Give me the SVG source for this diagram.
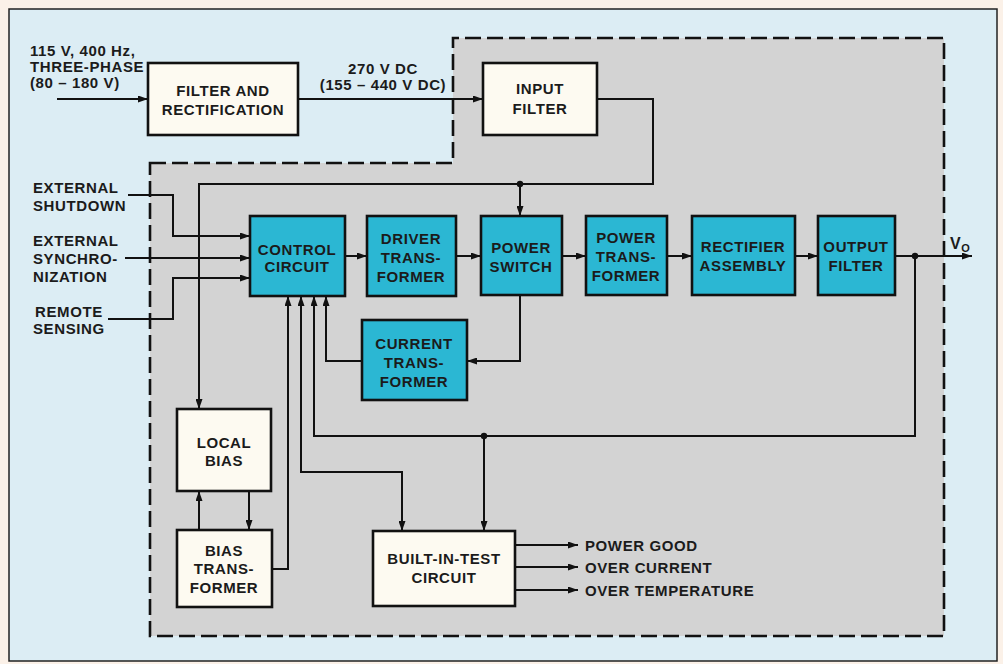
<svg xmlns="http://www.w3.org/2000/svg" width="1003" height="664" viewBox="0 0 1003 664">
<style>
.t{font-family:"Liberation Sans",Arial,sans-serif;font-weight:bold;font-size:15px;fill:#1b1b1b;letter-spacing:0.6px}
.c{text-anchor:middle}
.cream{fill:#fdfaf1;stroke:#111;stroke-width:2.6}
.cyan{fill:#2bb7d3;stroke:#111;stroke-width:2.6}
.ln{fill:none;stroke:#111;stroke-width:2}
.arr{marker-end:url(#ah)}
</style>
<defs>
<marker id="ah" markerWidth="10" markerHeight="7" refX="10" refY="3.5" orient="auto-start-reverse" markerUnits="userSpaceOnUse">
<path d="M0,0 L10,3.5 L0,7 z" fill="#111"/>
</marker>
</defs>
<rect x="0" y="0" width="1003" height="664" fill="#fbf1e8"/>
<rect x="9" y="9" width="988" height="652" fill="#dcedf4" stroke="#222" stroke-width="1.5"/>
<path d="M150,163 H453 V38 H944 V636 H150 Z" fill="#d3d3d3" stroke="#111" stroke-width="2.6" stroke-dasharray="16 6"/>

<g id="labels-in">
<text class="t" x="30" y="56">115 V, 400 Hz,</text>
<text class="t" x="30" y="72">THREE-PHASE</text>
<text class="t" x="30" y="88">(80 – 180 V)</text>
<text class="t c" x="383" y="74">270 V DC</text>
<text class="t c" x="383" y="90">(155 – 440 V DC)</text>
<text class="t" x="33" y="193">EXTERNAL</text>
<text class="t" x="33" y="211">SHUTDOWN</text>
<text class="t" x="33" y="246">EXTERNAL</text>
<text class="t" x="33" y="264">SYNCHRO-</text>
<text class="t" x="33" y="282">NIZATION</text>
<text class="t" x="35" y="317">REMOTE</text>
<text class="t" x="33" y="334">SENSING</text>
<text class="t" x="585" y="551">POWER GOOD</text>
<text class="t" x="585" y="573">OVER CURRENT</text>
<text class="t" x="585" y="596">OVER TEMPERATURE</text>
<text class="t" x="950" y="249" style="font-size:16px">V<tspan dy="3" style="font-size:11px">O</tspan></text>
</g>

<g id="connectors">
<path class="ln arr" d="M57,99 H148"/>
<path class="ln arr" d="M298,99 H483"/>
<path class="ln arr" d="M597,99 H653 V184 H199 V409"/>
<path class="ln arr" d="M520,184 V216"/>
<path class="ln arr" d="M128,195 H173 V236 H250"/>
<path class="ln arr" d="M125,258 H250"/>
<path class="ln arr" d="M108,319 H173 V278 H250"/>
<path class="ln arr" d="M345,256 H367"/>
<path class="ln arr" d="M456,256 H481"/>
<path class="ln arr" d="M562,256 H586"/>
<path class="ln arr" d="M667,256 H692"/>
<path class="ln arr" d="M795,256 H818"/>
<path class="ln arr" d="M895,256 H972"/>
<path class="ln arr" d="M915,256 V436 H314 V296"/>
<path class="ln arr" d="M484,436 V531"/>
<path class="ln arr" d="M520,295 V361 H467"/>
<path class="ln arr" d="M362,361 H326 V296"/>
<path class="ln arr" d="M272,569 H288 V296"/>
<path class="ln arr" d="M301,296 V472 H402 V531" marker-start="url(#ah)"/>
<path class="ln arr" d="M249,491 V530"/>
<path class="ln arr" d="M199,530 V491"/>
<path class="ln arr" d="M515,545 H578"/>
<path class="ln arr" d="M515,567 H578"/>
<path class="ln arr" d="M515,590 H578"/>
<circle cx="520" cy="184" r="3.2" fill="#111"/>
<circle cx="915" cy="256" r="3.2" fill="#111"/>
<circle cx="484" cy="436" r="3.2" fill="#111"/>
</g>

<g id="filter-rect">
<rect class="cream" x="148" y="63" width="150" height="72"/>
<text class="t c" x="223" y="96">FILTER AND</text>
<text class="t c" x="223" y="115">RECTIFICATION</text>
</g>
<g id="input-filter">
<rect class="cream" x="483" y="63" width="114" height="72"/>
<text class="t c" x="540" y="94">INPUT</text>
<text class="t c" x="540" y="114">FILTER</text>
</g>
<g id="control-circuit">
<rect class="cyan" x="250" y="216" width="95" height="80"/>
<text class="t c" x="297" y="255">CONTROL</text>
<text class="t c" x="297" y="272">CIRCUIT</text>
</g>
<g id="driver-transformer">
<rect class="cyan" x="367" y="216" width="89" height="80"/>
<text class="t c" x="411" y="244">DRIVER</text>
<text class="t c" x="411" y="263">TRANS-</text>
<text class="t c" x="411" y="282">FORMER</text>
</g>
<g id="power-switch">
<rect class="cyan" x="481" y="216" width="81" height="79"/>
<text class="t c" x="521" y="253">POWER</text>
<text class="t c" x="521" y="272">SWITCH</text>
</g>
<g id="power-transformer">
<rect class="cyan" x="586" y="216" width="81" height="79"/>
<text class="t c" x="626" y="243">POWER</text>
<text class="t c" x="626" y="262">TRANS-</text>
<text class="t c" x="626" y="281">FORMER</text>
</g>
<g id="rectifier-assembly">
<rect class="cyan" x="692" y="216" width="103" height="79"/>
<text class="t c" x="743" y="252">RECTIFIER</text>
<text class="t c" x="743" y="271">ASSEMBLY</text>
</g>
<g id="output-filter">
<rect class="cyan" x="818" y="216" width="77" height="79"/>
<text class="t c" x="856" y="252">OUTPUT</text>
<text class="t c" x="856" y="271">FILTER</text>
</g>
<g id="current-transformer">
<rect class="cyan" x="362" y="320" width="105" height="80"/>
<text class="t c" x="414" y="349">CURRENT</text>
<text class="t c" x="414" y="368">TRANS-</text>
<text class="t c" x="414" y="387">FORMER</text>
</g>
<g id="local-bias">
<rect class="cream" x="177" y="409" width="94" height="82"/>
<text class="t c" x="224" y="448">LOCAL</text>
<text class="t c" x="224" y="466">BIAS</text>
</g>
<g id="bias-transformer">
<rect class="cream" x="177" y="530" width="95" height="77"/>
<text class="t c" x="224" y="556">BIAS</text>
<text class="t c" x="224" y="574">TRANS-</text>
<text class="t c" x="224" y="593">FORMER</text>
</g>
<g id="built-in-test">
<rect class="cream" x="373" y="531" width="142" height="75"/>
<text class="t c" x="444" y="564">BUILT-IN-TEST</text>
<text class="t c" x="444" y="583">CIRCUIT</text>
</g>
</svg>
